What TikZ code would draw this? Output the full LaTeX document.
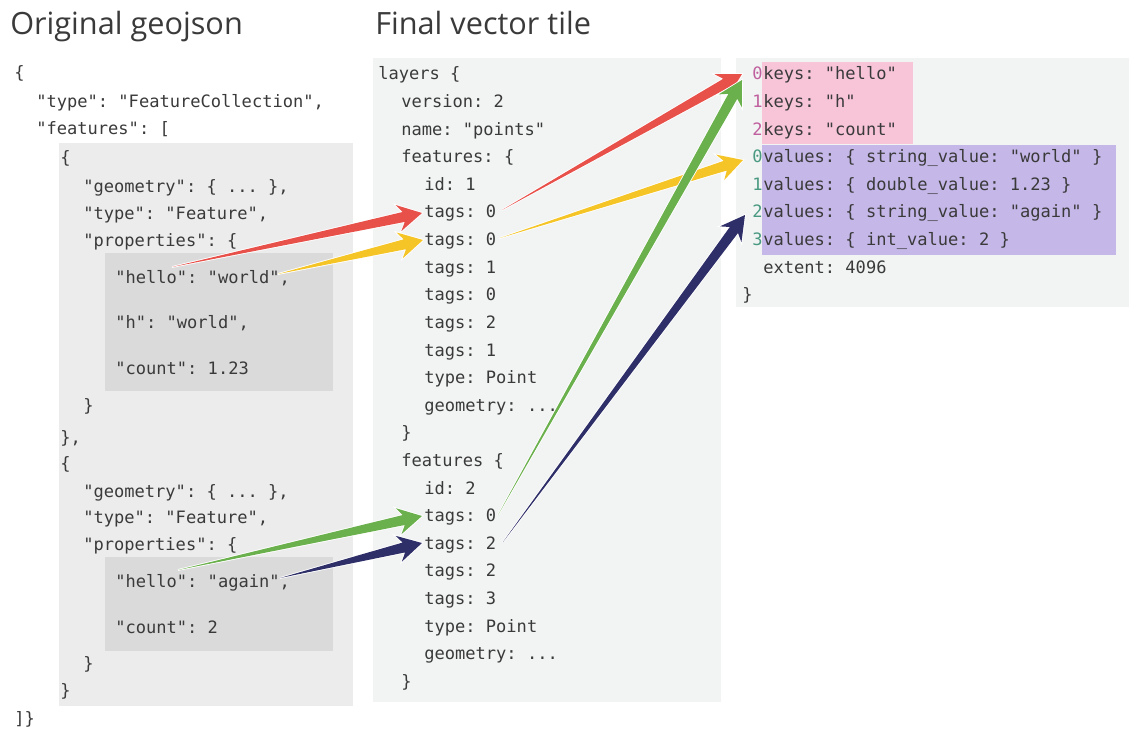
\documentclass[tikz,border=0pt]{standalone}
\usepackage{fontspec}
\setmonofont{DejaVu Sans Mono}
\newfontfamily\titlefont{Open Sans}
\usetikzlibrary{calc}
\definecolor{codecol}{HTML}{3A3A3A}
\definecolor{outergray}{HTML}{ECECEC}
\definecolor{innergray}{HTML}{DADADA}
\definecolor{panelgray}{HTML}{F2F3F3}
\definecolor{pinkbox}{HTML}{F7C4D8}
\definecolor{purplebox}{HTML}{C5B7E8}
\definecolor{pinkdigit}{HTML}{C0609E}
\definecolor{tealdigit}{HTML}{4A9A82}
\definecolor{redarr}{HTML}{E8504A}
\definecolor{yelarr}{HTML}{F5C426}
\definecolor{grnarr}{HTML}{6AB04C}
\definecolor{navyarr}{HTML}{2E2E68}
\newcommand\codefont{\ttfamily\fontsize{12.8}{14}\selectfont}
\newcommand\tparrow[3]{%
  \coordinate (tpB1) at ($(#2)!14pt!(#3)$);
  \coordinate (tpB2) at ($(#2)!18pt!(#3)$);
  \path[arrowsty, fill=#1] (#3) -- ($(tpB1)!3.8pt!90:(#2)$) -- ($(tpB2)!10pt!90:(#2)$) -- (#2)
    -- ($(tpB2)!10pt!-90:(#2)$) -- ($(tpB1)!3.8pt!-90:(#2)$) -- cycle;
  \fill[#1] (#3) -- ($(tpB1)!3.8pt!90:(#2)$) -- ($(tpB2)!10pt!90:(#2)$) -- (#2)
    -- ($(tpB2)!10pt!-90:(#2)$) -- ($(tpB1)!3.8pt!-90:(#2)$) -- cycle;
}
\tikzset{
  code/.style={anchor=base west, inner sep=0pt, font=\codefont, text=codecol},
  title/.style={anchor=base west, inner sep=0pt, font=\titlefont\fontsize{23}{27}\selectfont, text=codecol},
  pdig/.style={code, text=pinkdigit},
  tdig/.style={code, text=tealdigit},
  arrowsty/.style={draw=white, line width=1.3pt, line join=miter},
}
\begin{document}
\begin{tikzpicture}[x=0.75pt, y=-0.75pt]
\useasboundingbox[fill=white] (0,0) rectangle (1129,731);
% panels
\fill[outergray] (59,143) rectangle (353,706);
\fill[innergray] (105,253) rectangle (333,391);
\fill[innergray] (105,557) rectangle (333,651);
\fill[panelgray] (373,58) rectangle (721,702);
\fill[panelgray] (736,58) rectangle (1129,307);
\fill[pinkbox] (762,62) rectangle (913,144);
\fill[purplebox] (762,145) rectangle (1116,255);
% titles
\node[title] (t1) at (10,35) {Original geojson};
\node[title] (t2) at (375,35) {Final vector tile};
% left column
\node[code] (l0) at (14,79) {\{};
\node[code] (l1) at (36,108) {"type": "FeatureCollection",};
\node[code] (l2) at (36,135) {"features": [};
\node[code] (l3) at (60,164) {\{};
\node[code] (l4) at (83,193) {"geometry": \{ ... \},};
\node[code] (l5) at (83,220) {"type": "Feature",};
\node[code] (l6) at (83,247) {"properties": \{};
\node[code] (l7) at (115,284) {"hello": "world",};
\node[code] (l8) at (115,328) {"h": "world",};
\node[code] (l9) at (115,374) {"count": 1.23};
\node[code] (l10) at (83,411) {\}};
\node[code] (l11) at (60,443) {\},};
\node[code] (l12) at (60,469) {\{};
\node[code] (l13) at (83,497) {"geometry": \{ ... \},};
\node[code] (l14) at (83,523) {"type": "Feature",};
\node[code] (l15) at (83,550) {"properties": \{};
\node[code] (l16) at (115,587) {"hello": "again",};
\node[code] (l17) at (115,633) {"count": 2};
\node[code] (l18) at (83,669) {\}};
\node[code] (l19) at (60,696) {\}};
\node[code] (l20) at (14,724) {]\}};
% middle column
\foreach \k/\xx/\txt in {0/378/{layers \{}, 1/401/{version: 2}, 2/401/{name: "points"}, 3/401/{features: \{},
  4/424/{id: 1}, 5/424/{tags: 0}, 6/424/{tags: 0}, 7/424/{tags: 1}, 8/424/{tags: 0}, 9/424/{tags: 2},
  10/424/{tags: 1}, 11/424/{type: Point}, 12/424/{geometry: ...}, 13/401/{\}}, 14/401/{features \{},
  15/424/{id: 2}, 16/424/{tags: 0}, 17/424/{tags: 2}, 18/424/{tags: 2}, 19/424/{tags: 3},
  20/424/{type: Point}, 21/424/{geometry: ...}, 22/401/{\}}}
  \node[code] (m\k) at (\xx,{80+27.6*\k}) {\txt};
% right column
\foreach \k/\d/\txt in {0/0/{keys: "hello"}, 1/1/{keys: "h"}, 2/2/{keys: "count"}}
  {\node[pdig] (rd\k) at (752,{80+27.6*\k}) {\d};
   \node[code] (r\k) at (763,{80+27.6*\k}) {\txt};}
\foreach \k/\d/\txt in {3/0/{values: \{ string\_value: "world" \}}, 4/1/{values: \{ double\_value: 1.23 \}},
  5/2/{values: \{ string\_value: "again" \}}, 6/3/{values: \{ int\_value: 2 \}}}
  {\node[tdig] (rd\k) at (752,{80+27.6*\k}) {\d};
   \node[code] (r\k) at (763,{80+27.6*\k}) {\txt};}
\node[code] (r7) at (763,{80+27.6*7}) {extent: 4096};
\node[code] (r8) at (742,{80+27.6*8}) {\}};
% arrow ends
\coordinate (redtail1) at (172,267);   \coordinate (redtip1) at (422,213);
\coordinate (yeltail1) at (278,274);   \coordinate (yeltip1) at (423,240);
\coordinate (grntail1) at (178,570);   \coordinate (grntip1) at (422,516);
\coordinate (navtail1) at (280,578);   \coordinate (navtip1) at (422,543);
\coordinate (redtail2) at (502,210);   \coordinate (redtip2) at (742,74);
\coordinate (yeltail2) at (500,238);   \coordinate (yeltip2) at (743,160);
\coordinate (grntail2) at (498,515);   \coordinate (grntip2) at (742,80);
\coordinate (navtail2) at (503,542);   \coordinate (navtip2) at (745,215);
% arrows
\tparrow{redarr}{redtip1}{redtail1}
\tparrow{yelarr}{yeltip1}{yeltail1}
\tparrow{grnarr}{grntip1}{grntail1}
\tparrow{navyarr}{navtip1}{navtail1}
\tparrow{redarr}{redtip2}{redtail2}
\tparrow{yelarr}{yeltip2}{yeltail2}
\tparrow{grnarr}{grntip2}{grntail2}
\tparrow{navyarr}{navtip2}{navtail2}
\end{tikzpicture}
\end{document}
